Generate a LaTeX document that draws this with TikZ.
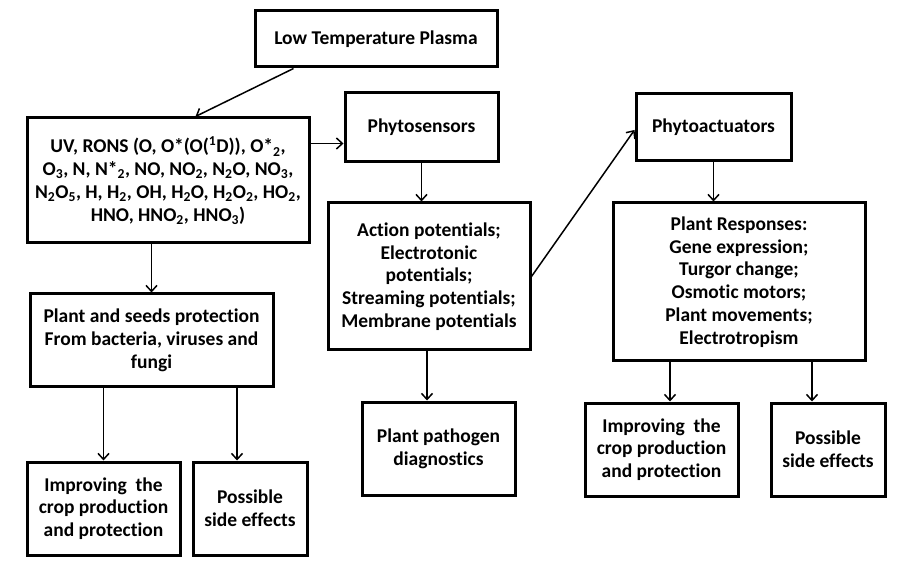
\documentclass[tikz,border=0pt]{standalone}
\usepackage{fontspec}
\setmainfont[Ligatures={NoCommon,NoContextual},RawFeature={-liga;-clig;-calt;-dlig}]{Carlito}
\usetikzlibrary{arrows.meta,calc}
\newcommand\tii{t\kern0pt i}
\begin{document}
\begin{tikzpicture}[x=1pt,y=-1pt,
  box/.style={draw, line width=3pt, align=center, inner sep=2pt,
    font=\fontsize{19.5}{22.8}\selectfont\bfseries},
  arr/.style={line width=1.5pt, -{Straight Barb[length=6pt,width=11pt,line width=1.5pt]}}]
\useasboundingbox (0,0) rectangle (906,572);
\node[box, minimum width=242pt, minimum height=56pt] (ltp) at (376,39) {Low Temperature Plasma};
\node[box, minimum width=282pt, minimum height=125pt] (rons) at (168,180.5)
  {UV, RONS (O, O*(O(\textsuperscript{1}D)), O*\textsubscript{2},\\
   O\textsubscript{3}, N, N*\textsubscript{2}, NO, NO\textsubscript{2}, N\textsubscript{2}O, NO\textsubscript{3},\\
   N\textsubscript{2}O\textsubscript{5}, H, H\textsubscript{2}, OH, H\textsubscript{2}O, H\textsubscript{2}O\textsubscript{2}, HO\textsubscript{2},\\
   HNO, HNO\textsubscript{2}, HNO\textsubscript{3})};
\node[box, minimum width=153pt, minimum height=69pt] (sens) at (421.5,127.5) {Phytosensors};
\node[box, minimum width=202pt, minimum height=147pt] (act) at (429,276.5)
  {Ac\tii{}on poten\tii{}als;\\ Electrotonic\\ poten\tii{}als;\\ Streaming poten\tii{}als;\\ Membrane poten\tii{}als};
\node[box, minimum width=153pt, minimum height=93pt] (path) at (438.5,448.5) {Plant pathogen\\ diagnos\tii{}cs};
\node[box, minimum width=243pt, minimum height=93pt] (prot) at (151.5,340.5)
  {Plant and seeds protec\tii{}on\\ From bacteria, viruses and\\ fungi};
\node[box, minimum width=153pt, minimum height=93pt] (imp1) at (103.5,508.5)
  {Improving\ \ the\\ crop produc\tii{}on\\ and protec\tii{}on};
\node[box, minimum width=114pt, minimum height=93pt] (pos1) at (250,508.5) {Possible\\ side effects};
\node[box, minimum width=155pt, minimum height=67pt] (actu) at (713.5,127.5) {Phytoactuators};
\node[box, minimum width=252pt, minimum height=158pt] (resp) at (739,282)
  {Plant Responses:\\ Gene expression;\\ Turgor change;\\ Osmotic motors;\\ Plant movements;\\ Electrotropism};
\node[box, minimum width=153pt, minimum height=93pt] (imp2) at (661.5,449.5)
  {Improving\ \ the\\ crop produc\tii{}on\\ and protec\tii{}on};
\node[box, minimum width=114pt, minimum height=93pt] (pos2) at (828,449.5) {Possible\\ side effects};

\coordinate (a1) at ([xshift=40pt]ltp.south west);
\coordinate (a2) at ([xshift=170pt]rons.north west);
\draw[arr] (a1) -- (a2);
\coordinate (rs) at ([yshift=-27pt]rons.north east);
\draw[arr] (rs) -- (rs -| sens.west);
\draw[arr] (sens.south) -- (sens.south |- act.north);
\coordinate (ae) at ([yshift=-2.5pt]actu.west);
\draw[arr] (act.east) -- (ae);
\draw[arr] (actu.south) -- (actu.south |- resp.north);
\coordinate (as) at ([xshift=-2pt]act.south);
\draw[arr] (as) -- (as |- path.north);
\draw[arr] (prot.north |- rons.south) -- (prot.north);
\draw[arr] (imp1.north |- prot.south) -- (imp1.north);
\coordinate (p1) at ([xshift=-13pt]pos1.north);
\draw[arr] (p1 |- prot.south) -- (p1);
\coordinate (i2) at ([xshift=8.5pt]imp2.north);
\draw[arr] (i2 |- resp.south) -- (i2);
\coordinate (p2) at ([xshift=-16pt]pos2.north);
\draw[arr] (p2 |- resp.south) -- (p2);
\end{tikzpicture}
\end{document}
